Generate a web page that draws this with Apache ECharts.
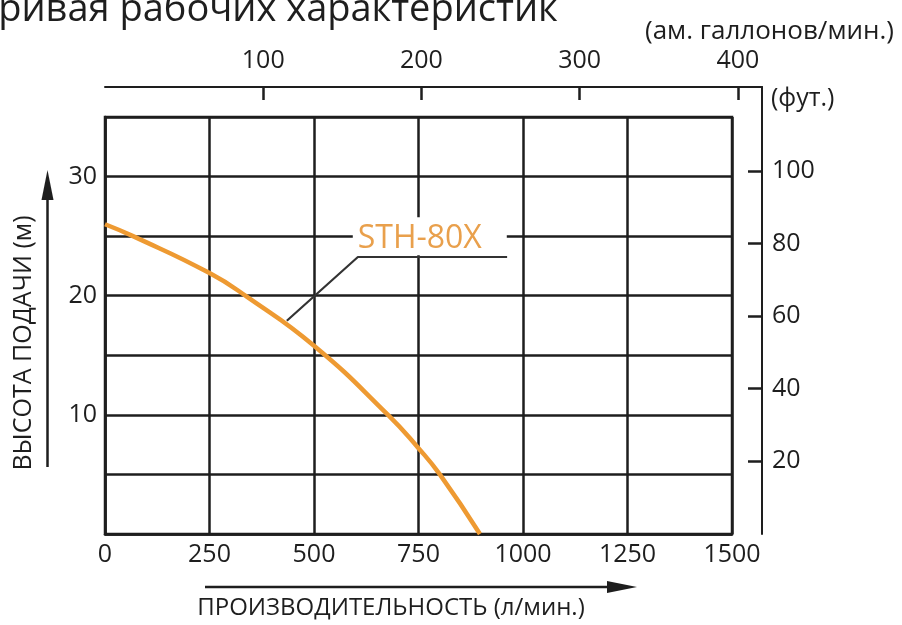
<!DOCTYPE html>
<html>
<head>
<meta charset="utf-8">
<script src="https://cdn.jsdelivr.net/npm/echarts@6/dist/echarts.min.js"></script>
<style>
html,body{margin:0;padding:0;background:#fff;}
#chart{width:902px;height:625px;}
</style>
</head>
<body>
<div id="chart"></div>
<script>
// ---- data ----
const flowLpm  = [0, 67, 250, 340, 500, 677, 750, 801, 897];
const headM    = [26.0, 25.0, 21.9, 19.9, 15.8, 10.0, 7.2, 5.0, 0];
const seriesName = 'STH-80X';
const xTicks = [0, 250, 500, 750, 1000, 1250, 1500];
const yLabelValues = [10, 20, 30];
const galTicks = [100, 200, 300, 400];
const ftTicks = [20, 40, 60, 80, 100];
const leaderPts = [[435, 17.9], [605, 23.25], [962, 23.25]];
const labelAnchor = [777, 25.0];
const titleText = 'Кривая рабочих характеристик';
const galUnit = '(ам. галлонов/мин.)';
const ftUnit = '(фут.)';
const yName = 'ВЫСОТА ПОДАЧИ (м)';
const xName = 'ПРОИЗВОДИТЕЛЬНОСТЬ (л/мин.)';

// unit conversions
const L_PER_GAL = 3.78541;
const M_PER_FT = 0.3048;

// layout
const G = {left: 105, top: 117, width: 627, height: 417};
const G2 = {left: 105, top: 87, width: 657, height: 447};
const X_MAX = 1500, Y_MAX = 35;
const GAL_MAX = (X_MAX / L_PER_GAL) * (G2.width / G.width);
const FT_MAX = (Y_MAX / M_PER_FT) * (G2.height / G.height);

const FONT = '"Open Sans", "Noto Sans", sans-serif';
const INK = '#1e1e1e';
const ORANGE = '#EE9A32';

const curve = flowLpm.map((q, i) => [q, headM[i]]);
const plain = v => String(v);

const chart = echarts.init(document.getElementById('chart'), null, {renderer: 'canvas'});
chart.setOption({
  animation: false,
  backgroundColor: '#fff',
  textStyle: {fontFamily: FONT},
  grid: [
    Object.assign({show: true, borderColor: INK, borderWidth: 2.5, backgroundColor: 'transparent', outerBoundsMode: 'none'}, G),
    Object.assign({show: false, outerBoundsMode: 'none'}, G2)
  ],
  xAxis: [
    {
      gridIndex: 0, type: 'value', min: 0, max: X_MAX, interval: 250,
      axisLine: {show: true, onZero: false, lineStyle: {color: INK, width: 2.5}},
      axisTick: {show: false},
      splitLine: {show: true, lineStyle: {color: INK, width: 2.5}},
      axisLabel: {show: true, color: INK, fontSize: 25, fontFamily: FONT, margin: 8,
        customValues: xTicks, formatter: plain}
    },
    {
      gridIndex: 1, type: 'value', position: 'top', min: 0, max: GAL_MAX,
      axisLine: {show: true, onZero: false, lineStyle: {color: INK, width: 2}},
      axisTick: {show: true, inside: true, length: 13, lineStyle: {color: INK, width: 2.5}, customValues: galTicks},
      splitLine: {show: false},
      axisLabel: {show: true, color: INK, fontSize: 25, fontFamily: FONT, margin: 14, customValues: galTicks, formatter: plain}
    }
  ],
  yAxis: [
    {
      gridIndex: 0, type: 'value', min: 0, max: Y_MAX, interval: 5,
      axisLine: {show: true, onZero: false, lineStyle: {color: INK, width: 2.5}},
      axisTick: {show: false},
      splitLine: {show: true, lineStyle: {color: INK, width: 2.5}},
      axisLabel: {show: true, color: INK, fontSize: 25, fontFamily: FONT, margin: 8,
        customValues: yLabelValues, formatter: plain}
    },
    {
      gridIndex: 1, type: 'value', position: 'right', min: 0, max: FT_MAX,
      axisLine: {show: true, onZero: false, lineStyle: {color: INK, width: 2}},
      axisTick: {show: true, inside: true, length: 14, lineStyle: {color: INK, width: 2.5}, customValues: ftTicks},
      splitLine: {show: false},
      axisLabel: {show: true, color: INK, fontSize: 25, fontFamily: FONT, margin: 10, customValues: ftTicks, formatter: plain}
    }
  ],
  series: [
    {
      name: seriesName, type: 'line', xAxisIndex: 0, yAxisIndex: 0,
      data: curve, smooth: 0.5, symbol: 'none',
      lineStyle: {color: ORANGE, width: 4.5}, z: 3
    },
    {
      name: 'leader', type: 'line', xAxisIndex: 0, yAxisIndex: 0,
      data: leaderPts, symbol: 'none', smooth: false,
      lineStyle: {color: '#333', width: 2.2}, z: 4
    },
    {
      name: 'label', type: 'scatter', xAxisIndex: 0, yAxisIndex: 0,
      data: [labelAnchor], symbol: 'rect', symbolSize: [154, 38], z: 5,
      itemStyle: {color: '#fff', opacity: 1},
      emphasis: {disabled: true},
      label: {
        show: true, position: 'inside', formatter: seriesName,
        color: '#E9A04C', fontSize: 32, fontFamily: FONT, offset: [-10, 3]
      }
    }
  ],
  graphic: [
    {type: 'text', left: -25, top: -9, style: {text: titleText, fontSize: 38, fontFamily: FONT, fill: INK}},
    {type: 'text', x: 645, y: 32, style: {text: galUnit, fontSize: 26, fontFamily: FONT, fill: INK, textVerticalAlign: 'middle'}},
    {type: 'text', x: 771, y: 99, style: {text: ftUnit, fontSize: 25, fontFamily: FONT, fill: INK, textVerticalAlign: 'middle'}},
    {type: 'text', x: 24, y: 343, rotation: Math.PI / 2,
      style: {text: yName, fontSize: 25, fontFamily: FONT, fill: INK, textAlign: 'center', textVerticalAlign: 'middle'}},
    {type: 'text', x: 391, y: 608,
      style: {text: xName, fontSize: 24, fontFamily: FONT, fill: INK, textAlign: 'center', textVerticalAlign: 'middle'}},
    {type: 'line', shape: {x1: 47.5, y1: 467, x2: 47.5, y2: 195}, style: {stroke: INK, lineWidth: 2.5}},
    {type: 'polygon', shape: {points: [[47.5, 170], [41.5, 200], [53.5, 200]]}, style: {fill: INK}},
    {type: 'line', shape: {x1: 205, y1: 587, x2: 612, y2: 587}, style: {stroke: INK, lineWidth: 2.5}},
    {type: 'polygon', shape: {points: [[637, 587], [607, 581], [607, 593]]}, style: {fill: INK}}
  ]
});
</script>
</body>
</html>
